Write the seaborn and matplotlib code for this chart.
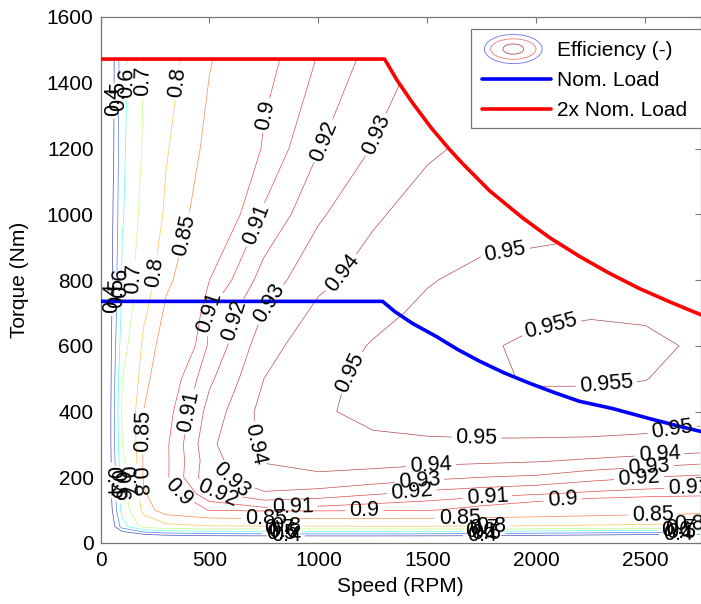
import numpy as np
import matplotlib
matplotlib.use("Agg")
import matplotlib.pyplot as plt
import seaborn as sns
from matplotlib.patches import Ellipse, PathPatch, Patch, Rectangle
from matplotlib.path import Path
from matplotlib.lines import Line2D
from matplotlib.legend_handler import HandlerBase
from matplotlib.colors import Normalize

sns.set_theme(style="white")
plt.rcParams['font.family'] = ['Liberation Sans', 'DejaVu Sans']

# efficiency map (rows = torque, cols = speed)
speed_rpm = [0, 50, 100, 200, 300, 500, 750, 1000, 1250, 1500, 1750, 2000, 2250, 2500, 2750]
torque_nm = [0, 25, 50, 100, 150, 200, 250, 300, 400, 500, 600, 700, 800, 1000, 1200, 1500]

eff_t0 = [0, 0, 0, 0, 0, 0, 0, 0, 0, 0, 0, 0, 0, 0, 0]
eff_t25 = [0, 0.20, 0.30, 0.38, 0.42, 0.45, 0.46, 0.465, 0.465, 0.46, 0.45, 0.43, 0.41, 0.39, 0.37]
eff_t50 = [0, 0.33, 0.55, 0.74, 0.785, 0.795, 0.797, 0.797, 0.798, 0.798, 0.797, 0.795, 0.792, 0.789, 0.785]
eff_t100 = [0, 0.38, 0.64, 0.825, 0.875, 0.901, 0.906, 0.905, 0.903, 0.901, 0.895, 0.888, 0.880, 0.874, 0.868]
eff_t150 = [0, 0.40, 0.66, 0.845, 0.892, 0.918, 0.929, 0.926, 0.921, 0.917, 0.914, 0.911, 0.908, 0.906, 0.905]
eff_t200 = [0, 0.40, 0.67, 0.86, 0.898, 0.9275, 0.936, 0.939, 0.9365, 0.9328, 0.930, 0.9285, 0.9237, 0.9203, 0.918]
eff_t250 = [0, 0.41, 0.68, 0.86, 0.898, 0.926, 0.9407, 0.942, 0.9432, 0.9428, 0.942, 0.9408, 0.9386, 0.936, 0.933]
eff_t300 = [0, 0.42, 0.70, 0.86, 0.898, 0.928, 0.9425, 0.9455, 0.9485, 0.949, 0.9492, 0.949, 0.9488, 0.9483, 0.9475]
eff_t400 = [0, 0.42, 0.72, 0.852, 0.895, 0.924, 0.9435, 0.949, 0.952, 0.953, 0.9535, 0.954, 0.954, 0.9535, 0.952]
eff_t500 = [0, 0.41, 0.70, 0.835, 0.89, 0.918, 0.94, 0.9485, 0.9515, 0.9535, 0.9545, 0.9553, 0.9553, 0.9551, 0.9535]
eff_t600 = [0, 0.40, 0.66, 0.82, 0.875, 0.912, 0.936, 0.9465, 0.9505, 0.953, 0.9545, 0.9558, 0.9562, 0.9558, 0.9545]
eff_t700 = [0, 0.39, 0.63, 0.79, 0.86, 0.91, 0.9305, 0.9425, 0.948, 0.9515, 0.9535, 0.9543, 0.9547, 0.9545, 0.954]
eff_t800 = [0, 0.38, 0.62, 0.77, 0.84, 0.90, 0.9245, 0.9375, 0.9445, 0.9495, 0.952, 0.953, 0.9535, 0.953, 0.952]
eff_t1000 = [0, 0.37, 0.59, 0.74, 0.81, 0.885, 0.9115, 0.9285, 0.9385, 0.9445, 0.9465, 0.947, 0.948, 0.948, 0.948]
eff_t1200 = [0, 0.35, 0.58, 0.715, 0.795, 0.865, 0.902, 0.9195, 0.9305, 0.9385, 0.9425, 0.944, 0.945, 0.945, 0.945]
eff_t1500 = [0, 0.34, 0.57, 0.70, 0.775, 0.845, 0.895, 0.91, 0.923, 0.932, 0.938, 0.94, 0.941, 0.941, 0.941]

eff_rows = [eff_t0, eff_t25, eff_t50, eff_t100, eff_t150, eff_t200, eff_t250, eff_t300,
            eff_t400, eff_t500, eff_t600, eff_t700, eff_t800, eff_t1000, eff_t1200, eff_t1500]

levels = [0.4, 0.5, 0.6, 0.7, 0.8, 0.85, 0.9, 0.91, 0.92, 0.93, 0.94, 0.95, 0.955]

# load curves
nom_speed = [0, 1294, 1350, 1431, 1541, 1640, 1739, 1850, 1968, 2080, 2197, 2349, 2532, 2650, 2755]
nom_torque = [735, 735, 704, 668, 628, 588, 553, 518, 486, 458, 431, 409, 376, 356, 339]
max_speed = [0, 1303, 1360, 1430, 1518, 1600, 1661, 1784, 1936, 2060, 2197, 2330, 2472, 2620, 2755]
max_torque = [1472, 1472, 1408, 1340, 1262, 1198, 1154, 1072, 989, 929, 872, 822, 774, 731, 694]

# where the contour labels sit (speed, torque)
label_spots = [
    (55, 1345), (72, 1360), (122, 1400), (200, 1405), (355, 1400),
    (790, 1295), (1015, 1225), (1250, 1245),
    (360, 940), (705, 970), (1110, 820), (1850, 905),
    (46, 745), (75, 760), (115, 790), (140, 805), (240, 825),
    (485, 705), (625, 675), (790, 720), (1155, 515),
    (685, 300), (408, 400), (193, 340),
    (2060, 680), (2320, 482),
    (1725, 330), (2620, 354),
    (1518, 220), (1463, 190), (1427, 160), (1775, 131), (2119, 131),
    (1647, 90), (1790, 50), (1760, 44), (1740, 38), (1770, 32), (1750, 24),
    (2564, 263), (2518, 220), (2472, 185), (2700, 160), (2532, 92),
    (2700, 52), (2660, 45), (2640, 38), (2665, 32), (2650, 24),
    (349, 150), (532, 140), (592, 177), (881, 105), (1211, 97),
    (760, 70), (850, 50), (820, 44), (840, 38), (830, 32), (850, 24),
    (40, 190), (60, 180), (85, 175), (105, 190), (135, 185),
]


class ContourIcon(HandlerBase):
    def create_artists(self, legend, orig_handle, xdescent, ydescent, width, height, fontsize, trans):
        cx = 0.45 * width - xdescent
        cy = 0.5 * height - ydescent
        rings = [(0.84, 2.0, '#7070f0'), (0.66, 1.4, '#f07878'), (0.3, 0.7, '#b05050')]
        out = []
        for w, h, c in rings:
            out.append(Ellipse((cx, cy), width * w, height * h, fill=False,
                               edgecolor=c, lw=0.6, transform=trans))
        return out


fig = plt.figure(figsize=(7.01, 6.04), dpi=100)
W, H = 701.0, 604.0
ax = fig.add_axes([100.5 / W, (H - 543) / H, 2755 * 0.218 / W, 526 / H])

S, T = np.meshgrid(speed_rpm, torque_nm)
E = np.array(eff_rows)
cs = ax.contour(S, T, E, levels=levels, cmap='jet', norm=Normalize(0.387, 0.955),
                linewidths=0.5, alpha=0.7)

envelope = list(zip(max_speed, max_torque)) + [(max_speed[-1], 0), (0, 0)]
clip = PathPatch(Path(envelope), transform=ax.transData, facecolor='none', edgecolor='none')
cs.set_clip_path(clip)

labels = ax.clabel(cs, levels, manual=label_spots, inline=True, inline_spacing=4,
                   fontsize=15.5, fmt='%g', colors='black')
for t in labels:
    t.set_alpha(1.0)

sns.lineplot(x=nom_speed, y=nom_torque, color='#0000ff', lw=2.6, ax=ax, zorder=3)
sns.lineplot(x=max_speed, y=max_torque, color='#ff0000', lw=2.6, ax=ax, zorder=3)

ax.set_xlim(0, 2755)
ax.set_ylim(0, 1600)
ax.set_xticks([0, 500, 1000, 1500, 2000, 2500])
ax.set_yticks(np.arange(0, 1601, 200))
ax.tick_params(direction='in', length=4, width=0.8, color='#777777', top=True, right=True,
               labelsize=15, labelcolor='black')
ax.tick_params(axis='x', pad=6)
ax.tick_params(axis='y', pad=5)
for sp in ax.spines.values():
    sp.set_color('#777777')
    sp.set_linewidth(0.9)
ax.set_xlabel('Speed (RPM)', fontsize=15, color='black', labelpad=5)
ax.set_ylabel('Torque (Nm)', fontsize=15, color='black', labelpad=13)

# legend box runs off the right edge of the picture
ax.add_patch(Rectangle((471 / W, (H - 128) / H), 260 / W, 99 / H, transform=fig.transFigure,
                       facecolor='white', edgecolor='#777777', lw=0.9, zorder=4, clip_on=False))
contour_proxy = Patch()
h_nom = Line2D([], [], color='#0000ff', lw=2.6)
h_max = Line2D([], [], color='#ff0000', lw=2.6)
leg = ax.legend([contour_proxy, h_nom, h_max], ['Efficiency (-)', 'Nom. Load', '2x Nom. Load'],
                handler_map={contour_proxy: ContourIcon()}, frameon=False, loc='upper left',
                bbox_to_anchor=(474 / W, (H - 33) / H), bbox_transform=fig.transFigure,
                fontsize=15, handlelength=3.3, handletextpad=0.3, labelspacing=0.52,
                borderaxespad=0, borderpad=0.4)
leg.set_zorder(5)
for t in leg.get_texts():
    t.set_color('black')

fig.savefig('out.png', dpi=100, facecolor='white')
